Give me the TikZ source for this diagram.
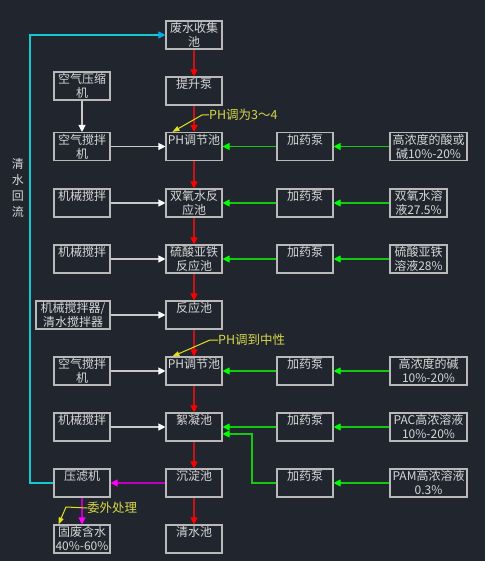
\documentclass[tikz,border=0pt]{standalone}
\usepackage{fontspec}
\newfontfamily\cjk{Noto Sans CJK SC}
\usetikzlibrary{arrows.meta}
\definecolor{bgc}{RGB}{33,38,46}
\definecolor{boxc}{RGB}{185,185,185}
\definecolor{txtc}{RGB}{215,215,215}
\definecolor{redl}{RGB}{200,20,20}
\definecolor{grnl}{RGB}{20,200,20}
\definecolor{grnh}{RGB}{0,255,0}
\definecolor{cyl}{RGB}{20,200,210}
\definecolor{mgl}{RGB}{190,0,190}
\definecolor{mgh}{RGB}{255,0,255}
\definecolor{yel}{RGB}{225,225,30}
\definecolor{yeltxt}{RGB}{215,215,70}
\definecolor{whl}{RGB}{200,200,200}
\tikzset{
  bx/.style={draw=boxc, line width=1.1pt, minimum height=28pt, minimum width=56pt, inner sep=0pt},
  tx/.style={text=txtc, font=\cjk\fontsize{12}{14}\selectfont, align=center, anchor=north, inner sep=0pt},
  lab/.style={text=yeltxt, font=\cjk\fontsize{12.5}{14}\selectfont, anchor=west, inner sep=0pt},
  redarr/.style={draw=redl, line width=1.1pt, -{Triangle[length=7pt,width=7pt,fill=red,color=red]}},
  grnarr/.style={draw=grnl, line width=1.1pt, -{Triangle[length=7pt,width=7pt,fill=grnh,color=grnh]}},
  wharr/.style={draw=whl, line width=1.1pt, -{Triangle[length=7pt,width=7pt,fill=white,color=white]}},
  cyarr/.style={draw=cyl, line width=1.1pt, -{Triangle[length=7pt,width=7pt,fill=cyan,color=cyan]}},
  mgarr/.style={draw=mgl, line width=1.1pt, -{Triangle[length=7pt,width=7pt,fill=mgh,color=mgh]}},
  yelarr/.style={draw=yel, line width=1pt, -{Triangle[length=7pt,width=5pt,fill=yel,color=yel]}},
}
\newcommand{\bxn}[5]{%
  \node[bx, minimum width=#4] (#1) at (#2,#3) {};
  \node[tx] (#1t) at ([yshift=-2pt]#1.north) {#5};}
\begin{document}
\begin{tikzpicture}[x=1pt,y=-1pt]
\fill[bgc] (0,0) rectangle (485,561);
\useasboundingbox (0,0) rectangle (485,561);
% centre column
\bxn{c1}{194}{35}{56pt}{废水收集\\池}
\bxn{c2}{194}{91}{56pt}{提升泵}
\bxn{c3}{194}{146.5}{56pt}{PH调节池}
\bxn{c4}{194}{203}{56pt}{双氧水反\\应池}
\bxn{c5}{194}{259}{56pt}{硫酸亚铁\\反应池}
\bxn{c6}{194}{315}{56pt}{反应池}
\bxn{c7}{194}{371}{56pt}{PH调节池}
\bxn{c8}{194}{427}{56pt}{絮凝池}
\bxn{c9}{194}{483}{56pt}{沉淀池}
\bxn{c10}{194}{539}{56pt}{清水池}
% left column
\bxn{l2}{82}{86}{56pt}{空气压缩\\机}
\bxn{l3}{82}{146.5}{56pt}{空气搅拌\\机}
\bxn{l4}{82}{203}{56pt}{机械搅拌}
\bxn{l5}{82}{259}{56pt}{机械搅拌}
\bxn{l6}{73}{315}{74pt}{机械搅拌器/\\清水搅拌器}
\bxn{l7}{82}{371}{56pt}{空气搅拌\\机}
\bxn{l8}{82}{427}{56pt}{机械搅拌}
\bxn{l9}{82}{483}{56pt}{压滤机}
\bxn{l10}{82}{539}{56pt}{固废含水\\40\%-60\%}
% pumps
\bxn{p3}{305}{146.5}{56pt}{加药泵}
\bxn{p4}{305}{203}{56pt}{加药泵}
\bxn{p5}{305}{259}{56pt}{加药泵}
\bxn{p7}{305}{371}{56pt}{加药泵}
\bxn{p8}{305}{427}{56pt}{加药泵}
\bxn{p9}{305}{483}{56pt}{加药泵}
% chemicals
\bxn{r3}{428.5}{146.5}{77pt}{高浓度的酸或\\碱10\%-20\%}
\bxn{r4}{418.5}{203}{57pt}{双氧水溶\\液27.5\%}
\bxn{r5}{418.5}{259}{57pt}{硫酸亚铁\\溶液28\%}
\bxn{r7}{428.5}{371}{77pt}{高浓度的碱\\10\%-20\%}
\bxn{r8}{428.5}{427}{77pt}{PAC高浓溶液\\10\%-20\%}
\bxn{r9}{428.5}{483}{77pt}{PAM高浓溶液\\0.3\%}
% red flow
\foreach \a/\b in {c1/c2,c2/c3,c3/c4,c4/c5,c5/c6,c6/c7,c7/c8,c8/c9,c9/c10}
  \draw[redarr] (\a.south) -- (\b.north);
% white
\draw[wharr] (l2.south) -- (l3.north);
\foreach \n in {3,4,5,6,7,8}
  \draw[wharr] (l\n.east) -- (c\n.west);
% green
\foreach \n in {3,4,5,7,8,9}
  \draw[grnarr] (r\n.west) -- (p\n.east);
\foreach \n in {3,4,5,7,8}
  \draw[grnarr] (p\n.west) -- (c\n.east);
\coordinate (k1) at (252,483);
\coordinate (k2) at (252,434);
\draw[grnarr] (p9.west) -- (k1) -- (k2) -- (k2 -| c8.east);
% magenta
\draw[mgarr] (c9.west) -- (l9.east);
\draw[mgarr] (l9.south) -- (l10.north);
% cyan return
\coordinate (q1) at (30,483);
\coordinate (q2) at (30,35);
\draw[cyarr] (l9.west) -- (q1) -- (q2) -- (c1.west);
\node[text=txtc, font=\cjk\fontsize{12}{16}\selectfont, align=center, inner sep=0pt] (ret) at (18,188) {清\\水\\回\\流};
% yellow labels
\node[lab] (y1) at (209,115) {PH调为3～4};
\coordinate (y1k) at (202,115);
\draw[yelarr] (y1.west) -- (y1k) -- ([xshift=7pt]c3.north west);
\node[lab] (y2) at (218,340) {PH调到中性};
\coordinate (y2k) at (210,340);
\draw[yelarr] (y2.west) -- (y2k) -- ([xshift=7pt]c7.north west);
\node[lab] (y3) at (87,508) {委外处理};
\coordinate (y3k) at (66,507);
\draw[yelarr] (y3.west) -- (y3k) -- ([xshift=5pt]l10.north west);
\end{tikzpicture}
\end{document}
